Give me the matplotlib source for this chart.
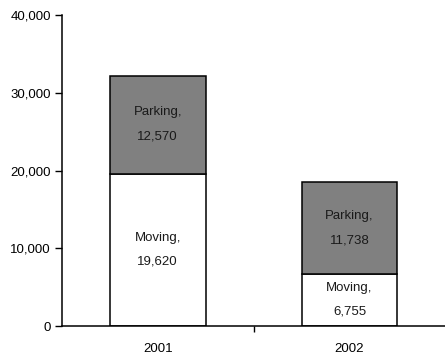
import matplotlib
matplotlib.use("Agg")
import matplotlib.pyplot as plt
from matplotlib.ticker import FuncFormatter

plt.rcParams['font.family'] = ['Liberation Sans', 'DejaVu Sans']

years = ["2001", "2002"]
moving = [19620, 6755]
parking = [12570, 11738]

fig = plt.figure(figsize=(4.45, 3.58), dpi=100)
ax = fig.add_axes([0.139, 0.089, 0.862, 0.869])

x = list(range(len(years)))
ax.bar(x, moving, width=0.5, color="white", edgecolor="black", linewidth=1.1)
ax.bar(x, parking, width=0.5, bottom=moving, color="#808080", edgecolor="black", linewidth=1.1)

fs = 9.5
for i in x:
    ax.text(i, moving[i] / 2, f"Moving,\n{moving[i]:,}", ha="center", va="center",
            fontsize=fs, linespacing=2.3, color="#1a1a1a")
    ax.text(i, moving[i] + parking[i] / 2, f"Parking,\n{parking[i]:,}", ha="center", va="center",
            fontsize=fs, linespacing=2.4, color="#1a1a1a")

ax.set_xlim(-0.5, 1.5)
ax.set_ylim(0, 40000)
ax.set_yticks([0, 10000, 20000, 30000, 40000])
ax.yaxis.set_major_formatter(FuncFormatter(lambda v, p: f"{int(v):,}"))
ax.set_xticks(x)
ax.set_xticklabels(years)
ax.set_xticks([0.5], minor=True)
ax.tick_params(axis="x", which="major", length=0, pad=12, labelsize=fs)
ax.tick_params(axis="x", which="minor", length=4, width=1, direction="out")
ax.tick_params(axis="y", length=5, width=1, direction="out", labelsize=fs, pad=3)

for s in ["top", "right"]:
    ax.spines[s].set_visible(False)
for s in ["left", "bottom"]:
    ax.spines[s].set_linewidth(1.1)

fig.savefig("out.png", dpi=100)
